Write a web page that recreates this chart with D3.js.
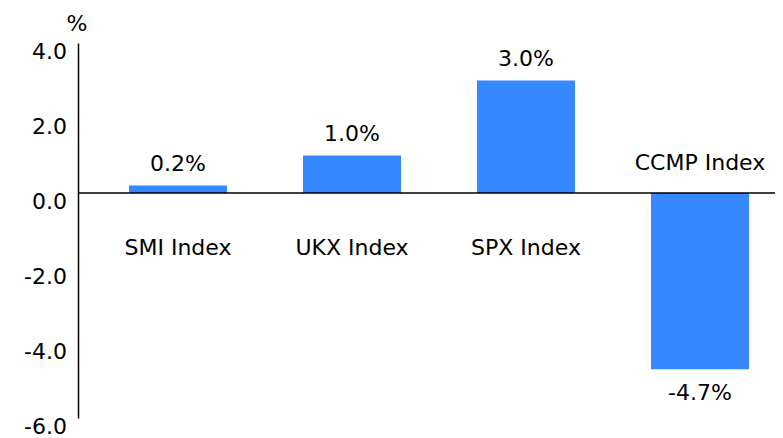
<!DOCTYPE html>
<html lang="en">
<head>
  <meta charset="UTF-8">
  <title>index returns</title>
  <script src="https://cdn.jsdelivr.net/npm/d3@7"></script>
  <style>
    body { margin: 0; background: #fff; }
    text { font-family: "DejaVu Sans", sans-serif; fill: #000; }
  </style>
</head>
<body>
  <svg width="783" height="438"></svg>
  <script>
    var categories = ['SMI Index', 'UKX Index', 'SPX Index', 'CCMP Index']
    var values = [0.2, 1.0, 3.0, -4.7]
    var yTicks = [4, 2, 0, -2, -4, -6]

    var svg = d3.select('svg')
    var fontSize = 22
    // plain hyphen for negatives, like the original
    var fmt = d => d3.format('.1f')(d).replace('\u2212', '-')

    var y = d3.scaleLinear().domain([-6, 4]).range([418, 43])
    var x = d3.scaleBand()
      .domain(categories)
      .range([91, 787])
      .paddingInner(0.437)
      .paddingOuter(0.2185)

    // bars
    svg.append('g')
      .selectAll('rect')
      .data(values)
      .enter()
      .append('rect')
      .attr('x', (d, i) => x(categories[i]))
      .attr('width', x.bandwidth())
      .attr('y', d => y(Math.max(0, d)))
      .attr('height', d => Math.abs(y(d) - y(0)))
      .attr('fill', '#3787ff')

    // zero line
    svg.append('line')
      .attr('x1', 78).attr('x2', 775)
      .attr('y1', y(0)).attr('y2', y(0))
      .attr('stroke', '#000').attr('stroke-width', 1.5)

    // y axis
    var axis = svg.append('g')
      .attr('transform', 'translate(78,0)')
      .call(d3.axisLeft(y).tickValues(yTicks).tickSize(0).tickPadding(11).tickFormat(fmt))
    axis.select('.domain').attr('stroke', '#000').attr('stroke-width', 1.5)
    axis.selectAll('text')
      .attr('font-size', fontSize)
      .attr('font-family', '"DejaVu Sans", sans-serif')
      .attr('dy', 0)
      .attr('y', 15)

    svg.append('text')
      .attr('x', 77).attr('y', 31)
      .attr('text-anchor', 'middle')
      .attr('font-size', 22)
      .text('%')

    // value labels
    svg.append('g')
      .selectAll('text')
      .data(values)
      .enter()
      .append('text')
      .attr('x', (d, i) => x(categories[i]) + x.bandwidth() / 2)
      .attr('y', d => d >= 0 ? y(d) - 15 : y(d) + 31)
      .attr('text-anchor', 'middle')
      .attr('font-size', fontSize)
      .text(d => fmt(d) + '%')

    // category labels
    svg.append('g')
      .selectAll('text')
      .data(values)
      .enter()
      .append('text')
      .attr('x', (d, i) => x(categories[i]) + x.bandwidth() / 2)
      .attr('y', d => d >= 0 ? y(0) + 62 : y(0) - 23)
      .attr('text-anchor', 'middle')
      .attr('font-size', fontSize)
      .text((d, i) => categories[i])
  </script>
</body>
</html>
